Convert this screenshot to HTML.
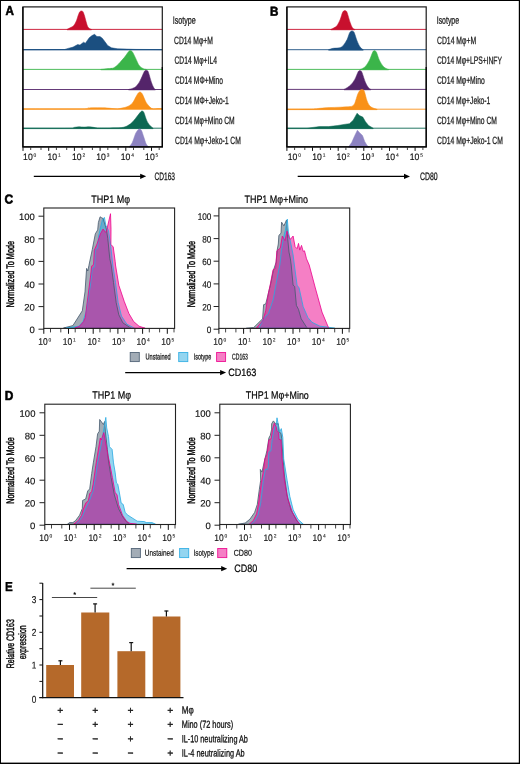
<!DOCTYPE html>
<html lang="en"><head><meta charset="utf-8"><title>Figure</title>
<style>html,body{margin:0;padding:0;background:#fff}svg{display:block}text{font-family:"Liberation Sans", "DejaVu Sans", sans-serif;}</style></head><body>
<svg width="520" height="764" viewBox="0 0 520 764" text-rendering="geometricPrecision">
<rect x="0" y="0" width="520" height="764" fill="#fff"/>
<line x1="22.9" y1="29.4" x2="162.3" y2="29.4" stroke="#c8102e" stroke-width="0.9"/>
<path d="M67.00,29.40 C67.58,29.10 69.37,28.25 70.50,27.60 C71.63,26.95 72.80,26.68 73.80,25.50 C74.80,24.32 75.72,22.33 76.50,20.50 C77.28,18.67 77.92,15.98 78.50,14.50 C79.08,13.02 79.50,12.20 80.00,11.60 C80.50,11.00 81.00,10.87 81.50,10.90 C82.00,10.93 82.48,10.95 83.00,11.80 C83.52,12.65 84.07,14.30 84.60,16.00 C85.13,17.70 85.68,20.23 86.20,22.00 C86.72,23.77 87.15,25.50 87.70,26.60 C88.25,27.70 88.87,28.13 89.50,28.60 C90.13,29.07 91.17,29.27 91.50,29.40 L91.50,29.85 L67.00,29.85 Z" fill="#c8102e" stroke="#c8102e" stroke-width="0.5" stroke-linejoin="round"/>
<line x1="22.9" y1="49.6" x2="162.3" y2="49.6" stroke="#1b4f80" stroke-width="0.9"/>
<path d="M23.00,49.60 L64.60,49.50 L68.00,48.40 L73.10,47.10 L77.70,44.50 L80.00,45.10 L83.50,42.20 L85.40,43.20 L89.20,37.80 L92.00,35.60 L94.60,34.20 L96.90,36.60 L100.00,36.60 L102.30,38.20 L105.00,41.80 L107.70,45.50 L111.50,47.80 L117.70,48.80 L127.00,49.10 L136.00,49.40 L162.00,49.60 L162.00,50.05 L23.00,50.05 Z" fill="#1b4f80" stroke="#1b4f80" stroke-width="0.5" stroke-linejoin="round"/>
<line x1="22.9" y1="69.4" x2="162.3" y2="69.4" stroke="#3bb54a" stroke-width="0.9"/>
<path d="M100.80,69.40 C102.00,69.27 105.83,68.87 108.00,68.60 C110.17,68.33 112.05,68.57 113.80,67.80 C115.55,67.03 117.22,65.20 118.50,64.00 C119.78,62.80 120.48,61.75 121.50,60.60 C122.52,59.45 123.43,58.58 124.60,57.10 C125.77,55.62 127.55,52.78 128.50,51.70 C129.45,50.62 129.67,50.60 130.30,50.60 C130.93,50.60 131.65,50.93 132.30,51.70 C132.95,52.47 133.55,53.92 134.20,55.20 C134.85,56.48 135.37,57.68 136.20,59.40 C137.03,61.12 138.05,63.97 139.20,65.50 C140.35,67.03 141.93,67.95 143.10,68.60 C144.27,69.25 145.68,69.27 146.20,69.40 L146.20,69.85 L100.80,69.85 Z" fill="#3bb54a" stroke="#3bb54a" stroke-width="0.5" stroke-linejoin="round"/>
<line x1="22.9" y1="89.5" x2="162.3" y2="89.5" stroke="#54246a" stroke-width="0.9"/>
<path d="M128.50,89.50 C129.25,89.28 131.72,88.73 133.00,88.20 C134.28,87.67 135.03,87.52 136.20,86.30 C137.37,85.08 138.73,83.20 140.00,80.90 C141.27,78.60 142.93,74.22 143.80,72.50 C144.67,70.78 144.75,70.98 145.20,70.60 C145.65,70.22 146.10,70.17 146.50,70.20 C146.90,70.23 147.27,70.42 147.60,70.80 C147.93,71.18 147.85,70.55 148.50,72.50 C149.15,74.45 150.62,79.95 151.50,82.50 C152.38,85.05 153.15,86.63 153.80,87.80 C154.45,88.97 155.13,89.22 155.40,89.50 L155.40,89.95 L128.50,89.95 Z" fill="#54246a" stroke="#54246a" stroke-width="0.5" stroke-linejoin="round"/>
<line x1="22.9" y1="108.9" x2="162.3" y2="108.9" stroke="#f99118" stroke-width="0.9"/>
<path d="M23.00,108.90 C33.27,108.90 73.77,109.05 84.60,108.90 C95.43,108.75 86.27,108.20 88.00,108.00 C89.73,107.80 92.17,107.73 95.00,107.70 C97.83,107.67 102.17,107.67 105.00,107.80 C107.83,107.93 109.88,108.32 112.00,108.50 C114.12,108.68 116.03,108.98 117.70,108.90 C119.37,108.82 120.47,108.35 122.00,108.00 C123.53,107.65 125.18,107.60 126.90,106.80 C128.62,106.00 130.75,104.95 132.30,103.20 C133.85,101.45 135.20,98.00 136.20,96.30 C137.20,94.60 137.67,93.72 138.30,93.00 C138.93,92.28 139.45,92.00 140.00,92.00 C140.55,92.00 141.08,92.42 141.60,93.00 C142.12,93.58 142.33,93.92 143.10,95.50 C143.87,97.08 145.05,100.57 146.20,102.50 C147.35,104.43 148.85,106.03 150.00,107.10 C151.15,108.17 151.77,108.65 153.10,108.90 C154.43,109.15 156.52,108.63 158.00,108.60 C159.48,108.57 161.33,108.68 162.00,108.70 L162.00,109.35 L23.00,109.35 Z" fill="#f99118" stroke="#f99118" stroke-width="0.5" stroke-linejoin="round"/>
<line x1="22.9" y1="128.2" x2="162.3" y2="128.2" stroke="#0c6852" stroke-width="0.9"/>
<path d="M23.00,128.20 C30.67,128.20 60.50,128.33 69.00,128.20 C77.50,128.07 72.33,127.63 74.00,127.40 C75.67,127.17 77.33,126.85 79.00,126.80 C80.67,126.75 82.50,127.10 84.00,127.10 C85.50,127.10 86.67,126.80 88.00,126.80 C89.33,126.80 90.67,126.93 92.00,127.10 C93.33,127.27 94.80,127.65 96.00,127.80 C97.20,127.95 96.87,127.97 99.20,128.00 C101.53,128.03 106.28,128.07 110.00,128.00 C113.72,127.93 118.53,128.00 121.50,127.60 C124.47,127.20 125.88,126.62 127.80,125.60 C129.72,124.58 131.35,123.18 133.00,121.50 C134.65,119.82 136.37,117.15 137.70,115.50 C139.03,113.85 140.23,112.37 141.00,111.60 C141.77,110.83 141.93,110.92 142.30,110.90 C142.67,110.88 142.88,111.12 143.20,111.50 C143.52,111.88 143.58,111.63 144.20,113.20 C144.82,114.77 145.93,118.85 146.90,120.90 C147.87,122.95 148.97,124.28 150.00,125.50 C151.03,126.72 152.58,127.75 153.10,128.20 L153.10,128.65 L23.00,128.65 Z" fill="#0c6852" stroke="#0c6852" stroke-width="0.5" stroke-linejoin="round"/>
<path d="M129.20,146.80 C129.72,146.08 131.27,144.63 132.30,142.50 C133.33,140.37 134.50,136.05 135.40,134.00 C136.30,131.95 137.02,131.02 137.70,130.20 C138.38,129.38 138.87,129.05 139.50,129.10 C140.13,129.15 140.78,129.17 141.50,130.50 C142.22,131.83 143.02,134.85 143.80,137.10 C144.58,139.35 145.42,142.38 146.20,144.00 C146.98,145.62 148.12,146.33 148.50,146.80 L148.50,147.25 L129.20,147.25 Z" fill="#8c82c1" stroke="#8c82c1" stroke-width="0.5" stroke-linejoin="round"/>
<rect x="22.9" y="6.9" width="139.4" height="140.0" fill="none" stroke="#1a1a1a" stroke-width="1.2"/>
<path d="M22.9,6.9V146.9H162.3V66.9" fill="none" stroke="#000" stroke-width="1.25" stroke-linejoin="miter"/>
<line x1="286.9" y1="29.4" x2="426.2" y2="29.4" stroke="#c8102e" stroke-width="0.9"/>
<path d="M330.90,29.40 C331.42,29.13 332.97,28.45 334.00,27.80 C335.03,27.15 336.07,26.90 337.10,25.50 C338.13,24.10 339.30,21.57 340.20,19.40 C341.10,17.23 341.90,13.90 342.50,12.50 C343.10,11.10 343.37,11.32 343.80,11.00 C344.23,10.68 344.70,10.57 345.10,10.60 C345.50,10.63 345.87,10.88 346.20,11.20 C346.53,11.52 346.43,10.62 347.10,12.50 C347.77,14.38 349.30,19.95 350.20,22.50 C351.10,25.05 351.73,26.65 352.50,27.80 C353.27,28.95 354.42,29.13 354.80,29.40 L354.80,29.85 L330.90,29.85 Z" fill="#c8102e" stroke="#c8102e" stroke-width="0.5" stroke-linejoin="round"/>
<line x1="286.9" y1="49.7" x2="426.2" y2="49.7" stroke="#1b4f80" stroke-width="0.9"/>
<path d="M328.60,49.70 C329.37,49.47 331.40,48.62 333.20,48.30 C335.00,47.98 337.73,48.27 339.40,47.80 C341.07,47.33 341.92,46.90 343.20,45.50 C344.48,44.10 346.07,41.45 347.10,39.40 C348.13,37.35 348.78,34.53 349.40,33.20 C350.02,31.87 350.33,31.78 350.80,31.40 C351.27,31.02 351.77,30.88 352.20,30.90 C352.63,30.92 353.02,31.12 353.40,31.50 C353.78,31.88 353.88,31.63 354.50,33.20 C355.12,34.77 356.15,38.58 357.10,40.90 C358.05,43.22 359.18,45.63 360.20,47.10 C361.22,48.57 362.70,49.27 363.20,49.70 L363.20,50.15 L328.60,50.15 Z" fill="#1b4f80" stroke="#1b4f80" stroke-width="0.5" stroke-linejoin="round"/>
<line x1="286.9" y1="69.4" x2="426.2" y2="69.4" stroke="#3bb54a" stroke-width="0.9"/>
<path d="M360.20,69.40 C360.67,69.20 362.12,68.72 363.00,68.20 C363.88,67.68 364.43,67.63 365.50,66.30 C366.57,64.97 368.23,62.50 369.40,60.20 C370.57,57.90 371.82,54.02 372.50,52.50 C373.18,50.98 373.17,51.42 373.50,51.10 C373.83,50.78 374.15,50.58 374.50,50.60 C374.85,50.62 375.25,50.88 375.60,51.20 C375.95,51.52 375.97,51.00 376.60,52.50 C377.23,54.00 378.30,57.90 379.40,60.20 C380.50,62.50 382.10,64.93 383.20,66.30 C384.30,67.67 385.10,67.88 386.00,68.40 C386.90,68.92 388.17,69.23 388.60,69.40 L388.60,69.85 L360.20,69.85 Z" fill="#3bb54a" stroke="#3bb54a" stroke-width="0.5" stroke-linejoin="round"/>
<line x1="286.9" y1="89.4" x2="426.2" y2="89.4" stroke="#54246a" stroke-width="0.9"/>
<path d="M344.00,89.40 C344.58,89.07 346.35,88.17 347.50,87.40 C348.65,86.63 349.68,86.13 350.90,84.80 C352.12,83.47 353.65,81.45 354.80,79.40 C355.95,77.35 357.13,73.90 357.80,72.50 C358.47,71.10 358.47,71.33 358.80,71.00 C359.13,70.67 359.43,70.48 359.80,70.50 C360.17,70.52 360.63,70.77 361.00,71.10 C361.37,71.43 361.25,70.60 362.00,72.50 C362.75,74.40 364.40,79.95 365.50,82.50 C366.60,85.05 367.70,86.65 368.60,87.80 C369.50,88.95 370.52,89.13 370.90,89.40 L370.90,89.85 L344.00,89.85 Z" fill="#54246a" stroke="#54246a" stroke-width="0.5" stroke-linejoin="round"/>
<line x1="286.9" y1="109.2" x2="426.2" y2="109.2" stroke="#f99118" stroke-width="0.9"/>
<path d="M287.00,109.20 C291.12,109.17 306.20,109.15 311.70,109.00 C317.20,108.85 317.05,108.53 320.00,108.30 C322.95,108.07 326.07,107.78 329.40,107.60 C332.73,107.42 336.53,107.37 340.00,107.20 C343.47,107.03 348.03,106.90 350.20,106.60 C352.37,106.30 352.23,105.97 353.00,105.40 C353.77,104.83 354.00,105.10 354.80,103.20 C355.60,101.30 356.90,96.17 357.80,94.00 C358.70,91.83 359.47,90.97 360.20,90.20 C360.93,89.43 361.65,89.43 362.20,89.40 C362.75,89.37 363.12,89.62 363.50,90.00 C363.88,90.38 363.90,89.88 364.50,91.70 C365.10,93.52 366.15,98.47 367.10,100.90 C368.05,103.33 368.92,105.02 370.20,106.30 C371.48,107.58 373.65,108.12 374.80,108.60 C375.95,109.08 376.72,109.10 377.10,109.20 L377.10,109.65 L287.00,109.65 Z" fill="#f99118" stroke="#f99118" stroke-width="0.5" stroke-linejoin="round"/>
<line x1="286.9" y1="128.2" x2="426.2" y2="128.2" stroke="#0c6852" stroke-width="0.9"/>
<path d="M287.00,128.20 L307.00,128.20 L313.00,127.40 L319.40,126.60 L328.60,126.60 L337.80,125.50 L345.50,124.20 L349.40,123.70 L353.20,120.20 L357.10,113.20 L359.40,115.50 L362.80,117.10 L365.50,121.70 L368.60,125.50 L373.20,128.20 L373.20,128.65 L287.00,128.65 Z" fill="#0c6852" stroke="#0c6852" stroke-width="0.5" stroke-linejoin="round"/>
<path d="M348.60,146.80 L351.70,142.50 L354.80,135.50 L357.40,130.20 L359.40,132.50 L362.50,135.50 L364.80,141.70 L367.10,145.50 L368.90,146.80 L368.90,147.25 L348.60,147.25 Z" fill="#8c82c1" stroke="#8c82c1" stroke-width="0.5" stroke-linejoin="round"/>
<rect x="286.9" y="6.9" width="139.3" height="140.0" fill="none" stroke="#1a1a1a" stroke-width="1.2"/>
<path d="M286.9,6.9V146.9H426.2V66.9" fill="none" stroke="#000" stroke-width="1.25" stroke-linejoin="miter"/>
<path d="M23.0,147.2v3.7M48.7,147.2v3.7M74.4,147.2v3.7M100.1,147.2v3.7M125.8,147.2v3.7M151.5,147.2v3.7" stroke="#111" stroke-width="1.0" fill="none"/>
<path d="M30.7,147.2v2.8M41.0,147.2v2.8M56.4,147.2v2.8M66.7,147.2v2.8M82.1,147.2v2.8M92.4,147.2v2.8M107.8,147.2v2.8M118.1,147.2v2.8M133.5,147.2v2.8M143.8,147.2v2.8M159.2,147.2v2.8" stroke="#222" stroke-width="0.85" fill="none"/>
<text transform="translate(23.10,160.10) rotate(0.1)" font-size="9.3" fill="#111" stroke="#111" stroke-width="0.15"><tspan textLength="9.6" lengthAdjust="spacingAndGlyphs">10</tspan><tspan font-size="4.9" dy="-3.3" dx="0.9" stroke-width="0.08">0</tspan></text>
<text transform="translate(47.50,160.10) rotate(0.1)" font-size="9.3" fill="#111" stroke="#111" stroke-width="0.15"><tspan textLength="9.6" lengthAdjust="spacingAndGlyphs">10</tspan><tspan font-size="4.9" dy="-3.3" dx="0.9" stroke-width="0.08">1</tspan></text>
<text transform="translate(71.90,160.10) rotate(0.1)" font-size="9.3" fill="#111" stroke="#111" stroke-width="0.15"><tspan textLength="9.6" lengthAdjust="spacingAndGlyphs">10</tspan><tspan font-size="4.9" dy="-3.3" dx="0.9" stroke-width="0.08">2</tspan></text>
<text transform="translate(96.30,160.10) rotate(0.1)" font-size="9.3" fill="#111" stroke="#111" stroke-width="0.15"><tspan textLength="9.6" lengthAdjust="spacingAndGlyphs">10</tspan><tspan font-size="4.9" dy="-3.3" dx="0.9" stroke-width="0.08">3</tspan></text>
<text transform="translate(120.70,160.10) rotate(0.1)" font-size="9.3" fill="#111" stroke="#111" stroke-width="0.15"><tspan textLength="9.6" lengthAdjust="spacingAndGlyphs">10</tspan><tspan font-size="4.9" dy="-3.3" dx="0.9" stroke-width="0.08">4</tspan></text>
<text transform="translate(145.10,160.10) rotate(0.1)" font-size="9.3" fill="#111" stroke="#111" stroke-width="0.15"><tspan textLength="9.6" lengthAdjust="spacingAndGlyphs">10</tspan><tspan font-size="4.9" dy="-3.3" dx="0.9" stroke-width="0.08">5</tspan></text>
<path d="M286.9,147.2v3.7M312.5,147.2v3.7M338.2,147.2v3.7M363.8,147.2v3.7M389.5,147.2v3.7M415.1,147.2v3.7" stroke="#111" stroke-width="1.0" fill="none"/>
<path d="M294.6,147.2v2.8M304.8,147.2v2.8M320.3,147.2v2.8M330.5,147.2v2.8M345.9,147.2v2.8M356.1,147.2v2.8M371.6,147.2v2.8M381.8,147.2v2.8M397.2,147.2v2.8M407.4,147.2v2.8M422.9,147.2v2.8" stroke="#222" stroke-width="0.85" fill="none"/>
<text transform="translate(287.80,160.10) rotate(0.1)" font-size="9.3" fill="#111" stroke="#111" stroke-width="0.15"><tspan textLength="9.6" lengthAdjust="spacingAndGlyphs">10</tspan><tspan font-size="4.9" dy="-3.3" dx="0.9" stroke-width="0.08">0</tspan></text>
<text transform="translate(312.20,160.10) rotate(0.1)" font-size="9.3" fill="#111" stroke="#111" stroke-width="0.15"><tspan textLength="9.6" lengthAdjust="spacingAndGlyphs">10</tspan><tspan font-size="4.9" dy="-3.3" dx="0.9" stroke-width="0.08">1</tspan></text>
<text transform="translate(336.60,160.10) rotate(0.1)" font-size="9.3" fill="#111" stroke="#111" stroke-width="0.15"><tspan textLength="9.6" lengthAdjust="spacingAndGlyphs">10</tspan><tspan font-size="4.9" dy="-3.3" dx="0.9" stroke-width="0.08">2</tspan></text>
<text transform="translate(361.00,160.10) rotate(0.1)" font-size="9.3" fill="#111" stroke="#111" stroke-width="0.15"><tspan textLength="9.6" lengthAdjust="spacingAndGlyphs">10</tspan><tspan font-size="4.9" dy="-3.3" dx="0.9" stroke-width="0.08">3</tspan></text>
<text transform="translate(385.40,160.10) rotate(0.1)" font-size="9.3" fill="#111" stroke="#111" stroke-width="0.15"><tspan textLength="9.6" lengthAdjust="spacingAndGlyphs">10</tspan><tspan font-size="4.9" dy="-3.3" dx="0.9" stroke-width="0.08">4</tspan></text>
<text transform="translate(409.80,160.10) rotate(0.1)" font-size="9.3" fill="#111" stroke="#111" stroke-width="0.15"><tspan textLength="9.6" lengthAdjust="spacingAndGlyphs">10</tspan><tspan font-size="4.9" dy="-3.3" dx="0.9" stroke-width="0.08">5</tspan></text>
<text transform="translate(5.60,15.00) rotate(0.1)" font-size="13.0" stroke="#000" stroke-width="0.6" textLength="8.4" lengthAdjust="spacingAndGlyphs" font-weight="bold" fill="#000">A</text>
<text transform="translate(270.00,15.80) rotate(0.1)" font-size="13.0" stroke="#000" stroke-width="0.6" textLength="8.4" lengthAdjust="spacingAndGlyphs" font-weight="bold" fill="#000">B</text>
<text transform="translate(172.80,23.70) rotate(0.1)" font-size="10.5" stroke="#1c1c1c" stroke-width="0.3" textLength="23.0" lengthAdjust="spacingAndGlyphs" fill="#1c1c1c">Isotype</text>
<text transform="translate(174.00,43.90) rotate(0.1)" font-size="10.5" stroke="#1c1c1c" stroke-width="0.3" textLength="38.9" lengthAdjust="spacingAndGlyphs" fill="#1c1c1c">CD14 Mφ+M</text>
<text transform="translate(174.50,63.80) rotate(0.1)" font-size="10.5" stroke="#1c1c1c" stroke-width="0.3" textLength="42.4" lengthAdjust="spacingAndGlyphs" fill="#1c1c1c">CD14 Mφ+IL4</text>
<text transform="translate(175.00,83.80) rotate(0.1)" font-size="10.5" stroke="#1c1c1c" stroke-width="0.3" textLength="48.0" lengthAdjust="spacingAndGlyphs" fill="#1c1c1c">CD14 MΦ+Mino</text>
<text transform="translate(175.00,103.90) rotate(0.1)" font-size="10.5" stroke="#1c1c1c" stroke-width="0.3" textLength="53.7" lengthAdjust="spacingAndGlyphs" fill="#1c1c1c">CD14 MΦ+Jeko-1</text>
<text transform="translate(175.00,124.00) rotate(0.1)" font-size="10.5" stroke="#1c1c1c" stroke-width="0.3" textLength="59.7" lengthAdjust="spacingAndGlyphs" fill="#1c1c1c">CD14 Mφ+Mino CM</text>
<text transform="translate(175.00,144.00) rotate(0.1)" font-size="10.5" stroke="#1c1c1c" stroke-width="0.3" textLength="65.8" lengthAdjust="spacingAndGlyphs" fill="#1c1c1c">CD14 Mφ+Jeko-1 CM</text>
<text transform="translate(436.70,23.70) rotate(0.1)" font-size="10.5" stroke="#1c1c1c" stroke-width="0.3" textLength="22.4" lengthAdjust="spacingAndGlyphs" fill="#1c1c1c">Isotype</text>
<text transform="translate(437.00,43.90) rotate(0.1)" font-size="10.5" stroke="#1c1c1c" stroke-width="0.3" textLength="39.1" lengthAdjust="spacingAndGlyphs" fill="#1c1c1c">CD14 Mφ+M</text>
<text transform="translate(437.00,63.80) rotate(0.1)" font-size="10.5" stroke="#1c1c1c" stroke-width="0.3" textLength="64.9" lengthAdjust="spacingAndGlyphs" fill="#1c1c1c">CD14 Mφ+LPS+INFY</text>
<text transform="translate(437.00,83.80) rotate(0.1)" font-size="10.5" stroke="#1c1c1c" stroke-width="0.3" textLength="47.7" lengthAdjust="spacingAndGlyphs" fill="#1c1c1c">CD14 Mφ+Mino</text>
<text transform="translate(437.00,103.90) rotate(0.1)" font-size="10.5" stroke="#1c1c1c" stroke-width="0.3" textLength="53.3" lengthAdjust="spacingAndGlyphs" fill="#1c1c1c">CD14 Mφ+Jeko-1</text>
<text transform="translate(437.00,124.00) rotate(0.1)" font-size="10.5" stroke="#1c1c1c" stroke-width="0.3" textLength="59.9" lengthAdjust="spacingAndGlyphs" fill="#1c1c1c">CD14 Mφ+Mino CM</text>
<text transform="translate(437.00,144.00) rotate(0.1)" font-size="10.5" stroke="#1c1c1c" stroke-width="0.3" textLength="65.9" lengthAdjust="spacingAndGlyphs" fill="#1c1c1c">CD14 Mφ+Jeko-1 CM</text>
<line x1="33.8" y1="176.3" x2="141.2" y2="176.3" stroke="#000" stroke-width="1.3"/>
<polygon points="146.2,176.3 140.2,173.7 140.2,178.9" fill="#000"/>
<text transform="translate(154.50,180.00) rotate(0.1)" font-size="10.8" stroke="#111" stroke-width="0.25" textLength="20.5" lengthAdjust="spacingAndGlyphs" fill="#111">CD163</text>
<line x1="297.7" y1="176.4" x2="405.0" y2="176.4" stroke="#000" stroke-width="1.3"/>
<polygon points="410.0,176.4 404.0,173.8 404.0,179.0" fill="#000"/>
<text transform="translate(420.00,180.00) rotate(0.1)" font-size="10.8" stroke="#111" stroke-width="0.25" textLength="17.7" lengthAdjust="spacingAndGlyphs" fill="#111">CD80</text>
<path d="M63.5,328.0 L72.9,325.6 L82.3,310.8 L85.0,291.9 L86.6,268.4 L87.8,271.0 L88.9,265.6 L92.3,249.4 L95.3,233.9 L97.7,229.9 L98.4,222.5 L100.1,216.8 L101.7,217.8 L103.1,218.5 L106.4,229.2 L107.8,238.6 L109.8,258.8 L111.2,265.0 L113.5,282.5 L116.2,302.7 L118.8,314.8 L122.9,322.9 L130.3,327.7 L131.0,328.2 Z" fill="#465a6e" fill-opacity="0.5"/>
<path d="M66.2,328.0 L78.9,326.2 L83.0,321.5 L86.3,310.8 L90.4,285.2 L91.6,275.0 L92.3,268.3 L94.7,266.9 L95.3,249.4 L97.7,248.1 L98.4,237.3 L100.4,227.9 L102.4,219.8 L104.4,217.4 L105.8,225.2 L108.5,230.6 L110.5,244.0 L112.8,265.0 L115.5,282.5 L118.2,302.7 L121.5,316.1 L126.9,324.2 L133.6,327.7 L134.5,328.2 Z" fill="#29abe2" fill-opacity="0.5"/>
<path d="M74.9,328.0 L79.6,326.2 L83.6,321.5 L85.3,317.5 L89.0,287.9 L90.7,275.0 L91.6,266.2 L93.6,264.2 L94.3,250.1 L97.0,244.0 L100.4,233.9 L103.1,229.0 L105.5,232.4 L106.6,230.6 L110.5,213.7 L111.0,229.2 L110.9,244.7 L113.2,246.7 L115.2,261.5 L115.5,265.0 L118.8,285.2 L124.2,301.3 L128.9,313.5 L133.6,321.5 L139.0,326.2 L145.1,328.2 Z" fill="#ec008c" fill-opacity="0.5"/>
<path d="M63.5,328.0 L72.9,325.6 L82.3,310.8 L85.0,291.9 L86.6,268.4 L87.8,271.0 L88.9,265.6 L92.3,249.4 L95.3,233.9 L97.7,229.9 L98.4,222.5 L100.1,216.8 L101.7,217.8 L103.1,218.5 L106.4,229.2 L107.8,238.6 L109.8,258.8 L111.2,265.0 L113.5,282.5 L116.2,302.7 L118.8,314.8 L122.9,322.9 L130.3,327.7 L131.0,328.2 Z" fill="none" stroke="#465a6e" stroke-width="0.85" stroke-linejoin="round" stroke-opacity="0.95"/>
<path d="M66.2,328.0 L78.9,326.2 L83.0,321.5 L86.3,310.8 L90.4,285.2 L91.6,275.0 L92.3,268.3 L94.7,266.9 L95.3,249.4 L97.7,248.1 L98.4,237.3 L100.4,227.9 L102.4,219.8 L104.4,217.4 L105.8,225.2 L108.5,230.6 L110.5,244.0 L112.8,265.0 L115.5,282.5 L118.2,302.7 L121.5,316.1 L126.9,324.2 L133.6,327.7 L134.5,328.2 Z" fill="none" stroke="#29abe2" stroke-width="0.85" stroke-linejoin="round" stroke-opacity="0.95"/>
<path d="M74.9,328.0 L79.6,326.2 L83.6,321.5 L85.3,317.5 L89.0,287.9 L90.7,275.0 L91.6,266.2 L93.6,264.2 L94.3,250.1 L97.0,244.0 L100.4,233.9 L103.1,229.0 L105.5,232.4 L106.6,230.6 L110.5,213.7 L111.0,229.2 L110.9,244.7 L113.2,246.7 L115.2,261.5 L115.5,265.0 L118.8,285.2 L124.2,301.3 L128.9,313.5 L133.6,321.5 L139.0,326.2 L145.1,328.2 Z" fill="none" stroke="#ec008c" stroke-width="0.85" stroke-linejoin="round" stroke-opacity="0.95"/>
<rect x="43.8" y="208.0" width="130.8" height="120.4" fill="none" stroke="#222" stroke-width="1.1"/>
<line x1="38.5" y1="216.2" x2="43.8" y2="216.2" stroke="#222" stroke-width="1"/>
<text transform="translate(34.80,220.10) rotate(0.1)" font-size="9.4" stroke="#111" stroke-width="0.15" textLength="15.8" lengthAdjust="spacingAndGlyphs" text-anchor="end" fill="#111">100</text>
<line x1="38.5" y1="238.8" x2="43.8" y2="238.8" stroke="#222" stroke-width="1"/>
<text transform="translate(34.80,242.70) rotate(0.1)" font-size="9.4" stroke="#111" stroke-width="0.15" textLength="10.6" lengthAdjust="spacingAndGlyphs" text-anchor="end" fill="#111">80</text>
<line x1="38.5" y1="261.4" x2="43.8" y2="261.4" stroke="#222" stroke-width="1"/>
<text transform="translate(34.80,265.30) rotate(0.1)" font-size="9.4" stroke="#111" stroke-width="0.15" textLength="10.6" lengthAdjust="spacingAndGlyphs" text-anchor="end" fill="#111">60</text>
<line x1="38.5" y1="284.0" x2="43.8" y2="284.0" stroke="#222" stroke-width="1"/>
<text transform="translate(34.80,287.90) rotate(0.1)" font-size="9.4" stroke="#111" stroke-width="0.15" textLength="10.6" lengthAdjust="spacingAndGlyphs" text-anchor="end" fill="#111">40</text>
<line x1="38.5" y1="306.6" x2="43.8" y2="306.6" stroke="#222" stroke-width="1"/>
<text transform="translate(34.80,310.50) rotate(0.1)" font-size="9.4" stroke="#111" stroke-width="0.15" textLength="10.6" lengthAdjust="spacingAndGlyphs" text-anchor="end" fill="#111">20</text>
<line x1="38.5" y1="329.2" x2="43.8" y2="329.2" stroke="#222" stroke-width="1"/>
<text transform="translate(34.80,333.10) rotate(0.1)" font-size="9.4" stroke="#111" stroke-width="0.15" textLength="5.3" lengthAdjust="spacingAndGlyphs" text-anchor="end" fill="#111">0</text>
<path d="M43.8,328.4v5.4M68.5,328.4v5.4M93.2,328.4v5.4M117.9,328.4v5.4M142.6,328.4v5.4M167.3,328.4v5.4" stroke="#111" stroke-width="1.0" fill="none"/>
<path d="M50.5,328.4v4.0M60.8,328.4v4.0M75.2,328.4v4.0M85.5,328.4v4.0M99.9,328.4v4.0M110.2,328.4v4.0M124.6,328.4v4.0M134.9,328.4v4.0M149.3,328.4v4.0M159.6,328.4v4.0M174.0,328.4v4.0" stroke="#222" stroke-width="0.85" fill="none"/>
<text transform="translate(38.20,344.80) rotate(0.1)" font-size="9.5" fill="#111" stroke="#111" stroke-width="0.15"><tspan textLength="9.4" lengthAdjust="spacingAndGlyphs">10</tspan><tspan font-size="4.9" dy="-3.4" dx="0.9" stroke-width="0.08">0</tspan></text>
<text transform="translate(62.80,344.80) rotate(0.1)" font-size="9.5" fill="#111" stroke="#111" stroke-width="0.15"><tspan textLength="9.4" lengthAdjust="spacingAndGlyphs">10</tspan><tspan font-size="4.9" dy="-3.4" dx="0.9" stroke-width="0.08">1</tspan></text>
<text transform="translate(87.40,344.80) rotate(0.1)" font-size="9.5" fill="#111" stroke="#111" stroke-width="0.15"><tspan textLength="9.4" lengthAdjust="spacingAndGlyphs">10</tspan><tspan font-size="4.9" dy="-3.4" dx="0.9" stroke-width="0.08">2</tspan></text>
<text transform="translate(112.00,344.80) rotate(0.1)" font-size="9.5" fill="#111" stroke="#111" stroke-width="0.15"><tspan textLength="9.4" lengthAdjust="spacingAndGlyphs">10</tspan><tspan font-size="4.9" dy="-3.4" dx="0.9" stroke-width="0.08">3</tspan></text>
<text transform="translate(136.60,344.80) rotate(0.1)" font-size="9.5" fill="#111" stroke="#111" stroke-width="0.15"><tspan textLength="9.4" lengthAdjust="spacingAndGlyphs">10</tspan><tspan font-size="4.9" dy="-3.4" dx="0.9" stroke-width="0.08">4</tspan></text>
<text transform="translate(161.20,344.80) rotate(0.1)" font-size="9.5" fill="#111" stroke="#111" stroke-width="0.15"><tspan textLength="9.4" lengthAdjust="spacingAndGlyphs">10</tspan><tspan font-size="4.9" dy="-3.4" dx="0.9" stroke-width="0.08">5</tspan></text>
<text transform="translate(91.20,203.00) rotate(0.1)" font-size="10.8" stroke="#000" stroke-width="0.2" textLength="38.8" lengthAdjust="spacingAndGlyphs" fill="#000">THP1 Mφ</text>
<text transform="translate(14.0,274.2) rotate(-90)" font-size="11.0" text-anchor="middle" stroke="#000" stroke-width="0.45" textLength="66.5" lengthAdjust="spacingAndGlyphs" fill="#000">Normalized To Mode</text>
<path d="M246.2,328.3 L253.6,327.6 L262.6,318.8 L263.6,304.7 L265.7,304.0 L270.4,285.2 L273.4,270.4 L276.2,262.0 L277.2,250.0 L278.3,244.0 L278.9,235.3 L281.0,233.3 L281.6,222.2 L283.9,225.9 L286.5,220.0 L287.7,238.6 L289.0,252.1 L290.4,258.8 L291.2,265.0 L293.1,285.2 L294.7,286.5 L296.4,305.4 L298.5,309.4 L301.2,318.8 L307.2,328.2 Z" fill="#465a6e" fill-opacity="0.5"/>
<path d="M258.9,328.0 L263.6,318.8 L268.4,313.5 L273.1,300.0 L277.1,278.5 L279.8,265.0 L281.6,249.4 L283.6,237.3 L285.3,230.6 L287.3,219.1 L288.4,231.9 L290.4,241.3 L293.1,254.8 L294.4,265.0 L297.1,285.2 L299.1,287.9 L303.2,306.7 L307.9,317.5 L311.9,322.2 L320.0,326.2 L328.1,327.2 L334.8,328.2 Z" fill="#29abe2" fill-opacity="0.5"/>
<path d="M256.2,328.2 L263.0,320.2 L265.7,310.8 L268.4,293.3 L270.4,283.8 L273.1,269.7 L275.6,268.3 L276.9,250.8 L280.3,248.1 L282.3,236.0 L285.0,240.7 L287.0,231.2 L289.0,237.3 L290.4,239.3 L293.1,236.0 L295.1,246.7 L297.1,248.7 L298.5,243.4 L299.8,250.1 L301.5,245.4 L303.2,251.4 L304.5,250.8 L306.5,258.8 L309.2,265.0 L315.3,287.9 L322.0,312.1 L328.7,328.2 Z" fill="#ec008c" fill-opacity="0.5"/>
<path d="M246.2,328.3 L253.6,327.6 L262.6,318.8 L263.6,304.7 L265.7,304.0 L270.4,285.2 L273.4,270.4 L276.2,262.0 L277.2,250.0 L278.3,244.0 L278.9,235.3 L281.0,233.3 L281.6,222.2 L283.9,225.9 L286.5,220.0 L287.7,238.6 L289.0,252.1 L290.4,258.8 L291.2,265.0 L293.1,285.2 L294.7,286.5 L296.4,305.4 L298.5,309.4 L301.2,318.8 L307.2,328.2 Z" fill="none" stroke="#465a6e" stroke-width="0.85" stroke-linejoin="round" stroke-opacity="0.95"/>
<path d="M258.9,328.0 L263.6,318.8 L268.4,313.5 L273.1,300.0 L277.1,278.5 L279.8,265.0 L281.6,249.4 L283.6,237.3 L285.3,230.6 L287.3,219.1 L288.4,231.9 L290.4,241.3 L293.1,254.8 L294.4,265.0 L297.1,285.2 L299.1,287.9 L303.2,306.7 L307.9,317.5 L311.9,322.2 L320.0,326.2 L328.1,327.2 L334.8,328.2 Z" fill="none" stroke="#29abe2" stroke-width="0.85" stroke-linejoin="round" stroke-opacity="0.95"/>
<path d="M256.2,328.2 L263.0,320.2 L265.7,310.8 L268.4,293.3 L270.4,283.8 L273.1,269.7 L275.6,268.3 L276.9,250.8 L280.3,248.1 L282.3,236.0 L285.0,240.7 L287.0,231.2 L289.0,237.3 L290.4,239.3 L293.1,236.0 L295.1,246.7 L297.1,248.7 L298.5,243.4 L299.8,250.1 L301.5,245.4 L303.2,251.4 L304.5,250.8 L306.5,258.8 L309.2,265.0 L315.3,287.9 L322.0,312.1 L328.7,328.2 Z" fill="none" stroke="#ec008c" stroke-width="0.85" stroke-linejoin="round" stroke-opacity="0.95"/>
<rect x="218.9" y="208.0" width="130.8" height="120.4" fill="none" stroke="#222" stroke-width="1.1"/>
<line x1="213.6" y1="215.9" x2="218.9" y2="215.9" stroke="#222" stroke-width="1"/>
<text transform="translate(211.40,219.80) rotate(0.1)" font-size="9.4" stroke="#111" stroke-width="0.15" textLength="13.7" lengthAdjust="spacingAndGlyphs" text-anchor="end" fill="#111">100</text>
<line x1="213.6" y1="238.6" x2="218.9" y2="238.6" stroke="#222" stroke-width="1"/>
<text transform="translate(211.40,242.46) rotate(0.1)" font-size="9.4" stroke="#111" stroke-width="0.15" textLength="9.1" lengthAdjust="spacingAndGlyphs" text-anchor="end" fill="#111">80</text>
<line x1="213.6" y1="261.2" x2="218.9" y2="261.2" stroke="#222" stroke-width="1"/>
<text transform="translate(211.40,265.12) rotate(0.1)" font-size="9.4" stroke="#111" stroke-width="0.15" textLength="9.1" lengthAdjust="spacingAndGlyphs" text-anchor="end" fill="#111">60</text>
<line x1="213.6" y1="283.9" x2="218.9" y2="283.9" stroke="#222" stroke-width="1"/>
<text transform="translate(211.40,287.78) rotate(0.1)" font-size="9.4" stroke="#111" stroke-width="0.15" textLength="9.1" lengthAdjust="spacingAndGlyphs" text-anchor="end" fill="#111">40</text>
<line x1="213.6" y1="306.5" x2="218.9" y2="306.5" stroke="#222" stroke-width="1"/>
<text transform="translate(211.40,310.44) rotate(0.1)" font-size="9.4" stroke="#111" stroke-width="0.15" textLength="9.1" lengthAdjust="spacingAndGlyphs" text-anchor="end" fill="#111">20</text>
<line x1="213.6" y1="329.2" x2="218.9" y2="329.2" stroke="#222" stroke-width="1"/>
<text transform="translate(211.40,333.10) rotate(0.1)" font-size="9.4" stroke="#111" stroke-width="0.15" textLength="4.6" lengthAdjust="spacingAndGlyphs" text-anchor="end" fill="#111">0</text>
<path d="M218.9,328.4v5.4M243.6,328.4v5.4M268.3,328.4v5.4M293.0,328.4v5.4M317.7,328.4v5.4M342.4,328.4v5.4" stroke="#111" stroke-width="1.0" fill="none"/>
<path d="M225.6,328.4v4.0M235.9,328.4v4.0M250.3,328.4v4.0M260.6,328.4v4.0M275.0,328.4v4.0M285.3,328.4v4.0M299.7,328.4v4.0M310.0,328.4v4.0M324.4,328.4v4.0M334.7,328.4v4.0M349.1,328.4v4.0" stroke="#222" stroke-width="0.85" fill="none"/>
<text transform="translate(213.30,344.80) rotate(0.1)" font-size="9.5" fill="#111" stroke="#111" stroke-width="0.15"><tspan textLength="9.4" lengthAdjust="spacingAndGlyphs">10</tspan><tspan font-size="4.9" dy="-3.4" dx="0.9" stroke-width="0.08">0</tspan></text>
<text transform="translate(237.90,344.80) rotate(0.1)" font-size="9.5" fill="#111" stroke="#111" stroke-width="0.15"><tspan textLength="9.4" lengthAdjust="spacingAndGlyphs">10</tspan><tspan font-size="4.9" dy="-3.4" dx="0.9" stroke-width="0.08">1</tspan></text>
<text transform="translate(262.50,344.80) rotate(0.1)" font-size="9.5" fill="#111" stroke="#111" stroke-width="0.15"><tspan textLength="9.4" lengthAdjust="spacingAndGlyphs">10</tspan><tspan font-size="4.9" dy="-3.4" dx="0.9" stroke-width="0.08">2</tspan></text>
<text transform="translate(287.10,344.80) rotate(0.1)" font-size="9.5" fill="#111" stroke="#111" stroke-width="0.15"><tspan textLength="9.4" lengthAdjust="spacingAndGlyphs">10</tspan><tspan font-size="4.9" dy="-3.4" dx="0.9" stroke-width="0.08">3</tspan></text>
<text transform="translate(311.70,344.80) rotate(0.1)" font-size="9.5" fill="#111" stroke="#111" stroke-width="0.15"><tspan textLength="9.4" lengthAdjust="spacingAndGlyphs">10</tspan><tspan font-size="4.9" dy="-3.4" dx="0.9" stroke-width="0.08">4</tspan></text>
<text transform="translate(336.30,344.80) rotate(0.1)" font-size="9.5" fill="#111" stroke="#111" stroke-width="0.15"><tspan textLength="9.4" lengthAdjust="spacingAndGlyphs">10</tspan><tspan font-size="4.9" dy="-3.4" dx="0.9" stroke-width="0.08">5</tspan></text>
<text transform="translate(244.40,203.00) rotate(0.1)" font-size="10.8" stroke="#000" stroke-width="0.2" textLength="63.5" lengthAdjust="spacingAndGlyphs" fill="#000">THP1 Mφ+Mino</text>
<text transform="translate(194.6,274.1) rotate(-90)" font-size="11.0" text-anchor="middle" stroke="#000" stroke-width="0.45" textLength="66.5" lengthAdjust="spacingAndGlyphs" fill="#000">Normalized To Mode</text>
<path d="M67.5,524.2 L69.5,522.6 L72.9,522.6 L75.6,520.6 L79.6,515.2 L82.3,508.5 L82.6,500.4 L85.7,499.0 L87.7,491.0 L89.7,488.9 L91.7,473.5 L93.3,462.9 L96.0,446.7 L97.6,433.9 L99.3,431.2 L99.7,419.5 L103.4,424.5 L104.6,421.5 L105.4,431.9 L107.4,449.4 L108.4,460.0 L111.1,477.5 L114.4,495.0 L118.5,508.5 L122.5,516.5 L127.2,522.6 L129.2,524.2 Z" fill="#465a6e" fill-opacity="0.5"/>
<path d="M75.6,524.2 L78.9,521.2 L82.3,516.5 L85.0,509.8 L89.0,501.7 L93.1,491.0 L95.8,476.2 L97.3,464.2 L101.3,444.0 L104.0,427.9 L105.8,417.4 L106.7,427.9 L108.5,436.6 L109.4,446.7 L112.1,449.4 L113.5,462.9 L115.1,472.1 L116.4,482.9 L117.8,484.2 L119.8,495.0 L121.2,503.1 L123.2,504.4 L125.2,512.5 L127.9,515.2 L137.3,521.2 L144.0,521.6 L146.7,522.6 L152.1,522.6 L155.5,524.2 Z" fill="#29abe2" fill-opacity="0.5"/>
<path d="M73.6,524.2 L78.3,520.6 L81.6,515.2 L83.0,509.8 L85.7,503.1 L88.4,500.4 L89.7,493.6 L91.7,491.6 L93.1,484.2 L95.8,465.4 L96.2,462.9 L98.6,448.1 L100.3,438.0 L101.3,440.0 L103.8,432.6 L105.4,441.3 L108.1,456.1 L109.0,460.0 L112.4,477.5 L115.1,492.3 L117.1,495.0 L118.5,504.4 L122.5,515.2 L126.5,521.2 L129.9,523.3 L136.6,524.2 Z" fill="#ec008c" fill-opacity="0.5"/>
<path d="M67.5,524.2 L69.5,522.6 L72.9,522.6 L75.6,520.6 L79.6,515.2 L82.3,508.5 L82.6,500.4 L85.7,499.0 L87.7,491.0 L89.7,488.9 L91.7,473.5 L93.3,462.9 L96.0,446.7 L97.6,433.9 L99.3,431.2 L99.7,419.5 L103.4,424.5 L104.6,421.5 L105.4,431.9 L107.4,449.4 L108.4,460.0 L111.1,477.5 L114.4,495.0 L118.5,508.5 L122.5,516.5 L127.2,522.6 L129.2,524.2 Z" fill="none" stroke="#465a6e" stroke-width="0.85" stroke-linejoin="round" stroke-opacity="0.95"/>
<path d="M75.6,524.2 L78.9,521.2 L82.3,516.5 L85.0,509.8 L89.0,501.7 L93.1,491.0 L95.8,476.2 L97.3,464.2 L101.3,444.0 L104.0,427.9 L105.8,417.4 L106.7,427.9 L108.5,436.6 L109.4,446.7 L112.1,449.4 L113.5,462.9 L115.1,472.1 L116.4,482.9 L117.8,484.2 L119.8,495.0 L121.2,503.1 L123.2,504.4 L125.2,512.5 L127.9,515.2 L137.3,521.2 L144.0,521.6 L146.7,522.6 L152.1,522.6 L155.5,524.2 Z" fill="none" stroke="#29abe2" stroke-width="0.85" stroke-linejoin="round" stroke-opacity="0.95"/>
<path d="M73.6,524.2 L78.3,520.6 L81.6,515.2 L83.0,509.8 L85.7,503.1 L88.4,500.4 L89.7,493.6 L91.7,491.6 L93.1,484.2 L95.8,465.4 L96.2,462.9 L98.6,448.1 L100.3,438.0 L101.3,440.0 L103.8,432.6 L105.4,441.3 L108.1,456.1 L109.0,460.0 L112.4,477.5 L115.1,492.3 L117.1,495.0 L118.5,504.4 L122.5,515.2 L126.5,521.2 L129.9,523.3 L136.6,524.2 Z" fill="none" stroke="#ec008c" stroke-width="0.85" stroke-linejoin="round" stroke-opacity="0.95"/>
<rect x="44.8" y="404.2" width="130.7" height="120.3" fill="none" stroke="#222" stroke-width="1.1"/>
<line x1="39.5" y1="412.8" x2="44.8" y2="412.8" stroke="#222" stroke-width="1"/>
<text transform="translate(35.40,416.70) rotate(0.1)" font-size="9.4" stroke="#111" stroke-width="0.15" textLength="15.8" lengthAdjust="spacingAndGlyphs" text-anchor="end" fill="#111">100</text>
<line x1="39.5" y1="435.3" x2="44.8" y2="435.3" stroke="#222" stroke-width="1"/>
<text transform="translate(35.40,439.18) rotate(0.1)" font-size="9.4" stroke="#111" stroke-width="0.15" textLength="10.6" lengthAdjust="spacingAndGlyphs" text-anchor="end" fill="#111">80</text>
<line x1="39.5" y1="457.8" x2="44.8" y2="457.8" stroke="#222" stroke-width="1"/>
<text transform="translate(35.40,461.66) rotate(0.1)" font-size="9.4" stroke="#111" stroke-width="0.15" textLength="10.6" lengthAdjust="spacingAndGlyphs" text-anchor="end" fill="#111">60</text>
<line x1="39.5" y1="480.2" x2="44.8" y2="480.2" stroke="#222" stroke-width="1"/>
<text transform="translate(35.40,484.14) rotate(0.1)" font-size="9.4" stroke="#111" stroke-width="0.15" textLength="10.6" lengthAdjust="spacingAndGlyphs" text-anchor="end" fill="#111">40</text>
<line x1="39.5" y1="502.7" x2="44.8" y2="502.7" stroke="#222" stroke-width="1"/>
<text transform="translate(35.40,506.62) rotate(0.1)" font-size="9.4" stroke="#111" stroke-width="0.15" textLength="10.6" lengthAdjust="spacingAndGlyphs" text-anchor="end" fill="#111">20</text>
<line x1="39.5" y1="525.2" x2="44.8" y2="525.2" stroke="#222" stroke-width="1"/>
<text transform="translate(35.40,529.10) rotate(0.1)" font-size="9.4" stroke="#111" stroke-width="0.15" textLength="5.3" lengthAdjust="spacingAndGlyphs" text-anchor="end" fill="#111">0</text>
<path d="M44.8,524.5v5.4M69.5,524.5v5.4M94.2,524.5v5.4M118.9,524.5v5.4M143.6,524.5v5.4M168.3,524.5v5.4" stroke="#111" stroke-width="1.0" fill="none"/>
<path d="M51.5,524.5v4.0M61.8,524.5v4.0M76.2,524.5v4.0M86.5,524.5v4.0M100.9,524.5v4.0M111.2,524.5v4.0M125.6,524.5v4.0M135.9,524.5v4.0M150.3,524.5v4.0M160.6,524.5v4.0M175.0,524.5v4.0" stroke="#222" stroke-width="0.85" fill="none"/>
<text transform="translate(39.20,540.90) rotate(0.1)" font-size="9.5" fill="#111" stroke="#111" stroke-width="0.15"><tspan textLength="9.4" lengthAdjust="spacingAndGlyphs">10</tspan><tspan font-size="4.9" dy="-3.4" dx="0.9" stroke-width="0.08">0</tspan></text>
<text transform="translate(63.80,540.90) rotate(0.1)" font-size="9.5" fill="#111" stroke="#111" stroke-width="0.15"><tspan textLength="9.4" lengthAdjust="spacingAndGlyphs">10</tspan><tspan font-size="4.9" dy="-3.4" dx="0.9" stroke-width="0.08">1</tspan></text>
<text transform="translate(88.40,540.90) rotate(0.1)" font-size="9.5" fill="#111" stroke="#111" stroke-width="0.15"><tspan textLength="9.4" lengthAdjust="spacingAndGlyphs">10</tspan><tspan font-size="4.9" dy="-3.4" dx="0.9" stroke-width="0.08">2</tspan></text>
<text transform="translate(113.00,540.90) rotate(0.1)" font-size="9.5" fill="#111" stroke="#111" stroke-width="0.15"><tspan textLength="9.4" lengthAdjust="spacingAndGlyphs">10</tspan><tspan font-size="4.9" dy="-3.4" dx="0.9" stroke-width="0.08">3</tspan></text>
<text transform="translate(137.60,540.90) rotate(0.1)" font-size="9.5" fill="#111" stroke="#111" stroke-width="0.15"><tspan textLength="9.4" lengthAdjust="spacingAndGlyphs">10</tspan><tspan font-size="4.9" dy="-3.4" dx="0.9" stroke-width="0.08">4</tspan></text>
<text transform="translate(162.20,540.90) rotate(0.1)" font-size="9.5" fill="#111" stroke="#111" stroke-width="0.15"><tspan textLength="9.4" lengthAdjust="spacingAndGlyphs">10</tspan><tspan font-size="4.9" dy="-3.4" dx="0.9" stroke-width="0.08">5</tspan></text>
<text transform="translate(92.30,398.80) rotate(0.1)" font-size="10.8" stroke="#000" stroke-width="0.2" textLength="38.8" lengthAdjust="spacingAndGlyphs" fill="#000">THP1 Mφ</text>
<text transform="translate(14.0,470.5) rotate(-90)" font-size="11.0" text-anchor="middle" stroke="#000" stroke-width="0.45" textLength="66.5" lengthAdjust="spacingAndGlyphs" fill="#000">Normalized To Mode</text>
<path d="M238.5,524.2 L245.2,523.0 L249.9,519.2 L254.6,512.5 L257.3,504.4 L259.3,489.6 L260.7,480.2 L260.3,469.4 L262.0,472.1 L264.9,458.8 L266.9,450.8 L268.9,438.0 L270.3,435.3 L271.6,429.2 L271.6,423.8 L273.4,420.9 L275.7,423.8 L278.4,423.8 L279.0,431.9 L281.0,433.3 L281.7,438.6 L283.1,458.8 L284.4,475.0 L287.0,495.0 L291.0,510.0 L297.0,521.0 L300.0,524.2 Z" fill="#465a6e" fill-opacity="0.5"/>
<path d="M250.6,524.2 L254.6,521.2 L258.0,515.2 L260.7,503.1 L263.4,480.2 L265.4,469.4 L267.4,469.4 L268.3,466.9 L268.9,452.1 L271.0,450.8 L272.3,438.6 L274.3,427.9 L276.3,423.8 L277.0,417.8 L278.4,425.2 L279.7,431.9 L281.3,428.6 L282.8,437.3 L283.7,458.8 L287.1,480.2 L289.8,496.3 L293.2,509.8 L297.9,519.2 L303.3,524.2 Z" fill="#29abe2" fill-opacity="0.5"/>
<path d="M249.2,524.2 L253.3,520.6 L256.6,513.8 L258.6,503.1 L261.3,482.9 L263.4,470.8 L264.9,458.8 L266.9,454.8 L268.9,440.0 L271.2,438.6 L272.3,429.9 L274.3,423.2 L276.3,427.2 L277.0,431.2 L278.6,432.6 L279.0,439.3 L281.0,440.0 L282.0,458.8 L284.4,480.2 L287.8,499.0 L292.5,512.5 L297.2,520.6 L299.9,524.2 Z" fill="#ec008c" fill-opacity="0.5"/>
<path d="M238.5,524.2 L245.2,523.0 L249.9,519.2 L254.6,512.5 L257.3,504.4 L259.3,489.6 L260.7,480.2 L260.3,469.4 L262.0,472.1 L264.9,458.8 L266.9,450.8 L268.9,438.0 L270.3,435.3 L271.6,429.2 L271.6,423.8 L273.4,420.9 L275.7,423.8 L278.4,423.8 L279.0,431.9 L281.0,433.3 L281.7,438.6 L283.1,458.8 L284.4,475.0 L287.0,495.0 L291.0,510.0 L297.0,521.0 L300.0,524.2 Z" fill="none" stroke="#465a6e" stroke-width="0.85" stroke-linejoin="round" stroke-opacity="0.95"/>
<path d="M250.6,524.2 L254.6,521.2 L258.0,515.2 L260.7,503.1 L263.4,480.2 L265.4,469.4 L267.4,469.4 L268.3,466.9 L268.9,452.1 L271.0,450.8 L272.3,438.6 L274.3,427.9 L276.3,423.8 L277.0,417.8 L278.4,425.2 L279.7,431.9 L281.3,428.6 L282.8,437.3 L283.7,458.8 L287.1,480.2 L289.8,496.3 L293.2,509.8 L297.9,519.2 L303.3,524.2 Z" fill="none" stroke="#29abe2" stroke-width="0.85" stroke-linejoin="round" stroke-opacity="0.95"/>
<path d="M249.2,524.2 L253.3,520.6 L256.6,513.8 L258.6,503.1 L261.3,482.9 L263.4,470.8 L264.9,458.8 L266.9,454.8 L268.9,440.0 L271.2,438.6 L272.3,429.9 L274.3,423.2 L276.3,427.2 L277.0,431.2 L278.6,432.6 L279.0,439.3 L281.0,440.0 L282.0,458.8 L284.4,480.2 L287.8,499.0 L292.5,512.5 L297.2,520.6 L299.9,524.2 Z" fill="none" stroke="#ec008c" stroke-width="0.85" stroke-linejoin="round" stroke-opacity="0.95"/>
<rect x="219.8" y="404.2" width="130.6" height="120.3" fill="none" stroke="#222" stroke-width="1.1"/>
<line x1="214.5" y1="412.8" x2="219.8" y2="412.8" stroke="#222" stroke-width="1"/>
<text transform="translate(210.80,416.70) rotate(0.1)" font-size="9.4" stroke="#111" stroke-width="0.15" textLength="15.8" lengthAdjust="spacingAndGlyphs" text-anchor="end" fill="#111">100</text>
<line x1="214.5" y1="435.3" x2="219.8" y2="435.3" stroke="#222" stroke-width="1"/>
<text transform="translate(210.80,439.18) rotate(0.1)" font-size="9.4" stroke="#111" stroke-width="0.15" textLength="10.6" lengthAdjust="spacingAndGlyphs" text-anchor="end" fill="#111">80</text>
<line x1="214.5" y1="457.8" x2="219.8" y2="457.8" stroke="#222" stroke-width="1"/>
<text transform="translate(210.80,461.66) rotate(0.1)" font-size="9.4" stroke="#111" stroke-width="0.15" textLength="10.6" lengthAdjust="spacingAndGlyphs" text-anchor="end" fill="#111">60</text>
<line x1="214.5" y1="480.2" x2="219.8" y2="480.2" stroke="#222" stroke-width="1"/>
<text transform="translate(210.80,484.14) rotate(0.1)" font-size="9.4" stroke="#111" stroke-width="0.15" textLength="10.6" lengthAdjust="spacingAndGlyphs" text-anchor="end" fill="#111">40</text>
<line x1="214.5" y1="502.7" x2="219.8" y2="502.7" stroke="#222" stroke-width="1"/>
<text transform="translate(210.80,506.62) rotate(0.1)" font-size="9.4" stroke="#111" stroke-width="0.15" textLength="10.6" lengthAdjust="spacingAndGlyphs" text-anchor="end" fill="#111">20</text>
<line x1="214.5" y1="525.2" x2="219.8" y2="525.2" stroke="#222" stroke-width="1"/>
<text transform="translate(210.80,529.10) rotate(0.1)" font-size="9.4" stroke="#111" stroke-width="0.15" textLength="5.3" lengthAdjust="spacingAndGlyphs" text-anchor="end" fill="#111">0</text>
<path d="M219.8,524.5v5.4M244.5,524.5v5.4M269.2,524.5v5.4M293.9,524.5v5.4M318.6,524.5v5.4M343.3,524.5v5.4" stroke="#111" stroke-width="1.0" fill="none"/>
<path d="M226.5,524.5v4.0M236.8,524.5v4.0M251.2,524.5v4.0M261.5,524.5v4.0M275.9,524.5v4.0M286.2,524.5v4.0M300.6,524.5v4.0M310.9,524.5v4.0M325.3,524.5v4.0M335.6,524.5v4.0M350.0,524.5v4.0" stroke="#222" stroke-width="0.85" fill="none"/>
<text transform="translate(214.20,540.90) rotate(0.1)" font-size="9.5" fill="#111" stroke="#111" stroke-width="0.15"><tspan textLength="9.4" lengthAdjust="spacingAndGlyphs">10</tspan><tspan font-size="4.9" dy="-3.4" dx="0.9" stroke-width="0.08">0</tspan></text>
<text transform="translate(238.80,540.90) rotate(0.1)" font-size="9.5" fill="#111" stroke="#111" stroke-width="0.15"><tspan textLength="9.4" lengthAdjust="spacingAndGlyphs">10</tspan><tspan font-size="4.9" dy="-3.4" dx="0.9" stroke-width="0.08">1</tspan></text>
<text transform="translate(263.40,540.90) rotate(0.1)" font-size="9.5" fill="#111" stroke="#111" stroke-width="0.15"><tspan textLength="9.4" lengthAdjust="spacingAndGlyphs">10</tspan><tspan font-size="4.9" dy="-3.4" dx="0.9" stroke-width="0.08">2</tspan></text>
<text transform="translate(288.00,540.90) rotate(0.1)" font-size="9.5" fill="#111" stroke="#111" stroke-width="0.15"><tspan textLength="9.4" lengthAdjust="spacingAndGlyphs">10</tspan><tspan font-size="4.9" dy="-3.4" dx="0.9" stroke-width="0.08">3</tspan></text>
<text transform="translate(312.60,540.90) rotate(0.1)" font-size="9.5" fill="#111" stroke="#111" stroke-width="0.15"><tspan textLength="9.4" lengthAdjust="spacingAndGlyphs">10</tspan><tspan font-size="4.9" dy="-3.4" dx="0.9" stroke-width="0.08">4</tspan></text>
<text transform="translate(337.20,540.90) rotate(0.1)" font-size="9.5" fill="#111" stroke="#111" stroke-width="0.15"><tspan textLength="9.4" lengthAdjust="spacingAndGlyphs">10</tspan><tspan font-size="4.9" dy="-3.4" dx="0.9" stroke-width="0.08">5</tspan></text>
<text transform="translate(245.80,398.80) rotate(0.1)" font-size="10.8" stroke="#000" stroke-width="0.2" textLength="63.0" lengthAdjust="spacingAndGlyphs" fill="#000">THP1 Mφ+Mino</text>
<text transform="translate(195.2,470.5) rotate(-90)" font-size="11.0" text-anchor="middle" stroke="#000" stroke-width="0.45" textLength="66.5" lengthAdjust="spacingAndGlyphs" fill="#000">Normalized To Mode</text>
<text transform="translate(4.50,203.60) rotate(0.1)" font-size="13.0" stroke="#000" stroke-width="0.6" textLength="8.6" lengthAdjust="spacingAndGlyphs" font-weight="bold" fill="#000">C</text>
<text transform="translate(4.80,400.00) rotate(0.1)" font-size="13.0" stroke="#000" stroke-width="0.6" textLength="8.6" lengthAdjust="spacingAndGlyphs" font-weight="bold" fill="#000">D</text>
<rect x="130.2" y="352.5" width="9.1" height="9.1" fill="#465a6e" fill-opacity="0.5" stroke="#465a6e" stroke-width="0.9" stroke-opacity="0.9"/>
<rect x="178.7" y="352.5" width="9.1" height="9.1" fill="#29abe2" fill-opacity="0.5" stroke="#29abe2" stroke-width="0.9" stroke-opacity="0.9"/>
<rect x="216.6" y="352.5" width="9.0" height="9.0" fill="#ec008c" fill-opacity="0.5" stroke="#ec008c" stroke-width="0.9" stroke-opacity="0.9"/>
<text transform="translate(145.60,359.50) rotate(0.1)" font-size="8.4" stroke="#222" stroke-width="0.3" textLength="25.1" lengthAdjust="spacingAndGlyphs" fill="#222">Unstained</text>
<text transform="translate(193.80,359.50) rotate(0.1)" font-size="8.4" stroke="#222" stroke-width="0.3" textLength="17.5" lengthAdjust="spacingAndGlyphs" fill="#222">Isotype</text>
<text transform="translate(232.00,359.50) rotate(0.1)" font-size="8.4" stroke="#222" stroke-width="0.3" textLength="15.9" lengthAdjust="spacingAndGlyphs" fill="#222">CD163</text>
<line x1="125.2" y1="372.6" x2="221.1" y2="372.6" stroke="#000" stroke-width="1.3"/>
<polygon points="226.1,372.6 220.1,370.0 220.1,375.2" fill="#000"/>
<text transform="translate(228.20,376.00) rotate(0.1)" font-size="10.6" stroke="#000" stroke-width="0.2" textLength="28.2" lengthAdjust="spacingAndGlyphs" fill="#000">CD163</text>
<rect x="131.3" y="548.5" width="9.1" height="9.1" fill="#465a6e" fill-opacity="0.5" stroke="#465a6e" stroke-width="0.9" stroke-opacity="0.9"/>
<rect x="179.6" y="548.5" width="9.1" height="9.1" fill="#29abe2" fill-opacity="0.5" stroke="#29abe2" stroke-width="0.9" stroke-opacity="0.9"/>
<rect x="217.7" y="548.5" width="9.1" height="9.1" fill="#ec008c" fill-opacity="0.5" stroke="#ec008c" stroke-width="0.9" stroke-opacity="0.9"/>
<text transform="translate(144.80,555.70) rotate(0.1)" font-size="8.6" stroke="#111" stroke-width="0.2" textLength="28.9" lengthAdjust="spacingAndGlyphs" fill="#111">Unstained</text>
<text transform="translate(193.40,555.70) rotate(0.1)" font-size="8.6" stroke="#111" stroke-width="0.2" textLength="20.8" lengthAdjust="spacingAndGlyphs" fill="#111">Isotype</text>
<text transform="translate(233.70,555.70) rotate(0.1)" font-size="8.6" stroke="#111" stroke-width="0.2" textLength="18.2" lengthAdjust="spacingAndGlyphs" fill="#111">CD80</text>
<line x1="126.6" y1="568.7" x2="222.2" y2="568.7" stroke="#000" stroke-width="1.3"/>
<polygon points="227.2,568.7 221.2,566.1 221.2,571.3" fill="#000"/>
<text transform="translate(234.20,572.00) rotate(0.1)" font-size="10.8" stroke="#000" stroke-width="0.2" textLength="23.0" lengthAdjust="spacingAndGlyphs" fill="#000">CD80</text>
<rect x="46.2" y="665.0" width="27.8" height="32.7" fill="#b5692a"/>
<line x1="60.4" y1="665.0" x2="60.4" y2="660.6" stroke="#111" stroke-width="1.2"/>
<line x1="58.4" y1="660.8" x2="62.4" y2="660.8" stroke="#111" stroke-width="1.2"/>
<rect x="81.2" y="612.5" width="28.1" height="85.2" fill="#b5692a"/>
<line x1="95.1" y1="612.5" x2="95.1" y2="603.7" stroke="#111" stroke-width="1.2"/>
<line x1="93.1" y1="603.9" x2="97.1" y2="603.9" stroke="#111" stroke-width="1.2"/>
<rect x="117.4" y="651.2" width="27.9" height="46.5" fill="#b5692a"/>
<line x1="131.2" y1="651.2" x2="131.2" y2="642.4" stroke="#111" stroke-width="1.2"/>
<line x1="129.2" y1="642.6" x2="133.2" y2="642.6" stroke="#111" stroke-width="1.2"/>
<rect x="152.7" y="616.5" width="27.7" height="81.2" fill="#b5692a"/>
<line x1="166.4" y1="616.5" x2="166.4" y2="610.8" stroke="#111" stroke-width="1.2"/>
<line x1="164.4" y1="611.0" x2="168.4" y2="611.0" stroke="#111" stroke-width="1.2"/>
<line x1="42.7" y1="583.0" x2="42.7" y2="698.2" stroke="#111" stroke-width="1.2"/>
<line x1="39.2" y1="697.7" x2="183.5" y2="697.7" stroke="#111" stroke-width="1.2"/>
<text transform="translate(36.40,702.80) rotate(0.1)" font-size="9.9" stroke="#111" stroke-width="0.15" textLength="4.6" lengthAdjust="spacingAndGlyphs" text-anchor="end" fill="#111">0</text>
<line x1="39.4" y1="681.4" x2="42.7" y2="681.4" stroke="#111" stroke-width="1"/>
<line x1="39.4" y1="665.0" x2="42.7" y2="665.0" stroke="#111" stroke-width="1"/>
<text transform="translate(36.40,668.50) rotate(0.1)" font-size="9.9" stroke="#111" stroke-width="0.15" textLength="4.6" lengthAdjust="spacingAndGlyphs" text-anchor="end" fill="#111">1</text>
<line x1="39.4" y1="648.7" x2="42.7" y2="648.7" stroke="#111" stroke-width="1"/>
<line x1="39.4" y1="632.3" x2="42.7" y2="632.3" stroke="#111" stroke-width="1"/>
<text transform="translate(36.40,635.80) rotate(0.1)" font-size="9.9" stroke="#111" stroke-width="0.15" textLength="4.6" lengthAdjust="spacingAndGlyphs" text-anchor="end" fill="#111">2</text>
<line x1="39.4" y1="616.0" x2="42.7" y2="616.0" stroke="#111" stroke-width="1"/>
<line x1="39.4" y1="599.6" x2="42.7" y2="599.6" stroke="#111" stroke-width="1"/>
<text transform="translate(36.40,603.10) rotate(0.1)" font-size="9.9" stroke="#111" stroke-width="0.15" textLength="4.6" lengthAdjust="spacingAndGlyphs" text-anchor="end" fill="#111">3</text>
<line x1="39.4" y1="583.2" x2="42.7" y2="583.2" stroke="#111" stroke-width="1"/>
<line x1="51.9" y1="597.5" x2="97.2" y2="597.5" stroke="#333" stroke-width="0.9"/>
<line x1="90.4" y1="588.2" x2="135.8" y2="588.2" stroke="#333" stroke-width="0.9"/>
<text transform="translate(74.60,597.30) rotate(0.1)" font-size="7.5" font-weight="bold" text-anchor="middle" fill="#111">*</text>
<text transform="translate(113.00,587.90) rotate(0.1)" font-size="7.5" font-weight="bold" text-anchor="middle" fill="#111">*</text>
<text transform="translate(14.2,643.7) rotate(-90)" font-size="10.8" text-anchor="middle" stroke="#000" stroke-width="0.4" textLength="49.0" lengthAdjust="spacingAndGlyphs" fill="#000">Relative CD163</text>
<text transform="translate(25.6,642.3) rotate(-90)" font-size="10.8" text-anchor="middle" stroke="#000" stroke-width="0.4" textLength="34.0" lengthAdjust="spacingAndGlyphs" fill="#000">expression</text>
<text transform="translate(5.00,591.00) rotate(0.1)" font-size="13.0" stroke="#000" stroke-width="0.35" textLength="7.8" lengthAdjust="spacingAndGlyphs" font-weight="bold" fill="#000">E</text>
<text transform="translate(60.20,713.70) rotate(0.1)" font-size="10.2" stroke="#111" stroke-width="0.3" text-anchor="middle" fill="#111">+</text>
<text transform="translate(95.20,713.70) rotate(0.1)" font-size="10.2" stroke="#111" stroke-width="0.3" text-anchor="middle" fill="#111">+</text>
<text transform="translate(130.40,713.70) rotate(0.1)" font-size="10.2" stroke="#111" stroke-width="0.3" text-anchor="middle" fill="#111">+</text>
<text transform="translate(170.20,713.70) rotate(0.1)" font-size="10.2" stroke="#111" stroke-width="0.3" text-anchor="middle" fill="#111">+</text>
<text transform="translate(60.20,727.70) rotate(0.1)" font-size="10.2" stroke="#111" stroke-width="0.3" text-anchor="middle" fill="#111">−</text>
<text transform="translate(95.20,727.70) rotate(0.1)" font-size="10.2" stroke="#111" stroke-width="0.3" text-anchor="middle" fill="#111">+</text>
<text transform="translate(130.40,727.70) rotate(0.1)" font-size="10.2" stroke="#111" stroke-width="0.3" text-anchor="middle" fill="#111">+</text>
<text transform="translate(170.20,727.70) rotate(0.1)" font-size="10.2" stroke="#111" stroke-width="0.3" text-anchor="middle" fill="#111">+</text>
<text transform="translate(60.20,742.20) rotate(0.1)" font-size="10.2" stroke="#111" stroke-width="0.3" text-anchor="middle" fill="#111">−</text>
<text transform="translate(95.20,742.20) rotate(0.1)" font-size="10.2" stroke="#111" stroke-width="0.3" text-anchor="middle" fill="#111">−</text>
<text transform="translate(130.40,742.20) rotate(0.1)" font-size="10.2" stroke="#111" stroke-width="0.3" text-anchor="middle" fill="#111">+</text>
<text transform="translate(170.20,742.20) rotate(0.1)" font-size="10.2" stroke="#111" stroke-width="0.3" text-anchor="middle" fill="#111">−</text>
<text transform="translate(60.20,756.50) rotate(0.1)" font-size="10.2" stroke="#111" stroke-width="0.3" text-anchor="middle" fill="#111">−</text>
<text transform="translate(95.20,756.50) rotate(0.1)" font-size="10.2" stroke="#111" stroke-width="0.3" text-anchor="middle" fill="#111">−</text>
<text transform="translate(130.40,756.50) rotate(0.1)" font-size="10.2" stroke="#111" stroke-width="0.3" text-anchor="middle" fill="#111">−</text>
<text transform="translate(170.20,756.50) rotate(0.1)" font-size="10.2" stroke="#111" stroke-width="0.3" text-anchor="middle" fill="#111">+</text>
<text transform="translate(181.80,713.60) rotate(0.1)" font-size="10.2" stroke="#111" stroke-width="0.3" textLength="12.0" lengthAdjust="spacingAndGlyphs" fill="#111">Mφ</text>
<text transform="translate(181.80,727.70) rotate(0.1)" font-size="10.2" stroke="#111" stroke-width="0.3" textLength="51.3" lengthAdjust="spacingAndGlyphs" fill="#111">Mino (72 hours)</text>
<text transform="translate(181.80,742.30) rotate(0.1)" font-size="10.2" stroke="#111" stroke-width="0.3" textLength="66.1" lengthAdjust="spacingAndGlyphs" fill="#111">IL-10 neutralizing Ab</text>
<text transform="translate(181.80,756.50) rotate(0.1)" font-size="10.2" stroke="#111" stroke-width="0.3" textLength="62.9" lengthAdjust="spacingAndGlyphs" fill="#111">IL-4 neutralizing Ab</text>
<rect x="0" y="0" width="520" height="1" fill="#000"/>
<rect x="0" y="0" width="1" height="764" fill="#000"/>
<rect x="518.8" y="0" width="1.2" height="764" fill="#000"/>
<rect x="0" y="762.6" width="520" height="1.4" fill="#000"/>
</svg></body></html>
